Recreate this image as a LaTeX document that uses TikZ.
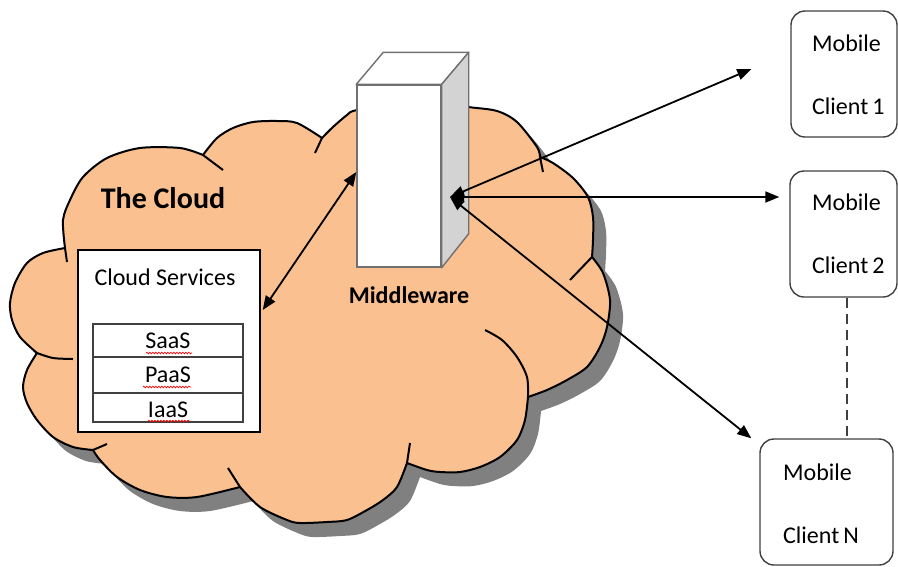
\documentclass[tikz,border=0pt]{standalone}
\usepackage{fontspec}
\setmainfont{Carlito}
\usetikzlibrary{arrows.meta,decorations.pathmorphing,calc}
\definecolor{cloudfill}{HTML}{FAC090}
\definecolor{shadowgray}{HTML}{808080}
\definecolor{mwside}{HTML}{D3D3D3}
\definecolor{mwedge}{HTML}{707070}
\definecolor{boxedge}{HTML}{404040}
\newcommand\cloudshape[1]{%
\path[#1] plot[smooth] coordinates {(65,248) (63,220) (70,200) (83,177) (107,158) (140,148) (180,148) (203,155)}
 -- plot[smooth] coordinates {(203,155) (217,138) (233,128) (253,122) (277,121) (297,123) (322,138)}
 -- plot[smooth] coordinates {(322,138) (333,127) (347,115) (357,110) (412,100) (468,107) (497,111) (517,122) (537,147) (540,157)}
 -- plot[smooth] coordinates {(540,157) (553,163) (573,178) (588,197) (593,217) (593,240) (592,257)}
 -- plot[smooth] coordinates {(592,257) (603,273) (610,300) (607,327) (600,347) (587,367) (567,380) (547,390) (528,397)}
 -- plot[smooth] coordinates {(528,397) (525,420) (517,440) (500,457) (480,467) (460,472) (440,472) (427,470) (407,463)}
 -- plot[smooth] coordinates {(407,463) (397,487) (383,500) (367,510) (347,520) (327,522) (300,523) (287,520) (260,507) (240,487)}
 -- plot[smooth] coordinates {(240,487) (197,497) (167,497) (140,490) (117,477) (100,460) (93,450)}
 -- plot[smooth] coordinates {(93,450) (73,447) (53,437) (37,420) (27,403) (23,387) (27,370) (37,353)}
 -- plot[smooth] coordinates {(37,353) (20,337) (12,320) (10,303) (15,283) (27,263) (43,253) (65,248)}
 -- cycle;}
\begin{document}
\begin{tikzpicture}[x=1pt,y=-1pt,
  txt/.style={font=\fontsize{24}{28}\selectfont, inner sep=0pt},
  btxt/.style={font=\fontsize{24}{28}\selectfont\bfseries, inner sep=0pt},
  cloudline/.style={line width=2pt, draw=black},
  client/.style={draw=boxedge, line width=1.4pt, rounded corners=14pt, fill=white},
  row/.style={draw=boxedge, line width=1.4pt, minimum width=150pt, inner sep=0pt},
  conn/.style={line width=1.8pt, {Triangle[length=14pt,width=11pt]}-{Triangle[length=14pt,width=11pt]}},
  dashline/.style={line width=1.5pt, draw=boxedge, dash pattern=on 10pt off 6pt},
  spell/.style={draw=red, line width=0.7pt, decorate, decoration={snake,amplitude=0.8pt,segment length=3pt}},
  mwface/.style={draw=mwedge, line width=1.4pt}]
\useasboundingbox (0,0) rectangle (898,566);

% cloud with shadow
\cloudshape{fill=shadowgray, shift={(13,14)}}
\cloudshape{fill=cloudfill, draw=black, line width=2pt, line join=round}
% inner arcs of the cloud
\draw[cloudline] (65,248) -- (67,262);
\draw[cloudline] (203,155) -- (223,170);
\draw[cloudline] (322,138) -- (315,153);
\draw[cloudline] (540,157) -- (543,172);
\draw[cloudline] (592,257) -- (570,280);
\draw[cloudline] plot[smooth] coordinates {(528,397) (527,377) (517,357) (502,340) (485,330)};
\draw[cloudline] (407,463) -- (410,443);
\draw[cloudline] (240,487) -- (228,468);
\draw[cloudline] (93,450) -- (107,444);
\draw[cloudline] plot[smooth] coordinates {(37,353) (53,358) (73,359)};

\node[btxt, font=\fontsize{30}{34}\selectfont\bfseries] (cloudlbl) at (163,198) {The Cloud};

% cloud services
\node[draw=black, fill=white, line width=1.4pt, minimum width=182pt, minimum height=182pt, inner sep=0pt] (cs) at (169,341) {};
\node[txt] (cslbl) at (165,277) {Cloud Services};
\node[row, minimum height=33pt] (saas) at (168,340.5) {};
\node[row, minimum height=36pt] (paas) at (168,375) {};
\node[row, minimum height=29pt] (iaas) at (168,407.5) {};
\node[txt] at (168,341) {SaaS};
\node[txt] at (168,375) {PaaS};
\node[txt] at (168,410) {IaaS};
\draw[spell] (146,353) -- (192,353);
\draw[spell] (143,387) -- (191,387);
\draw[spell] (148,421) -- (190,421);

% middleware
\node[mwface, fill=white, minimum width=84pt, minimum height=182pt, inner sep=0pt] (mw) at (399,176) {};
\draw[mwface, fill=white, line join=round] (mw.north west) -- ($(mw.north west)+(27,-32)$) -- ($(mw.north east)+(27,-32)$) -- (mw.north east) -- cycle;
\draw[mwface, fill=mwside, line join=round] (mw.north east) -- ($(mw.north east)+(27,-32)$) -- ($(mw.south east)+(27,-34)$) -- (mw.south east) -- cycle;
\node[btxt] (mwlbl) at (409,295) {Middleware};

% clients
\node[client, minimum width=106pt, minimum height=126pt, inner sep=0pt] (c1) at (844,74) {};
\node[client, minimum width=107pt, minimum height=126pt, inner sep=0pt] (c2) at (843.5,234) {};
\node[client, minimum width=133pt, minimum height=126pt, inner sep=0pt] (cn) at (826.5,502) {};
\node[txt, anchor=west] at (812,43) {Mobile};
\node[txt, anchor=west] at (812,106) {Client\,1};
\node[txt, anchor=west] at (812,202) {Mobile};
\node[txt, anchor=west] at (812,265) {Client\,2};
\node[txt, anchor=west] at (783,472) {Mobile};
\node[txt, anchor=west] at (783,535) {Client\,N};

% connectors
\coordinate (mwR) at (450,197);
\coordinate (t1) at ([xshift=-39pt,yshift=5pt]c1.west);
\coordinate (t2) at ([xshift=-10pt,yshift=37pt]c2.west);
\coordinate (tN) at ([xshift=-8pt]cn.north west);
\draw[conn] ([xshift=2pt,yshift=31pt]cs.east) -- ([yshift=4pt]mw.west);
\draw[conn] (mwR) -- (t1);
\draw[conn] (mwR) -- (t2);
\draw[conn] (mwR) -- (tN);
\draw[dashline] ([xshift=3.5pt]c2.south) -- ([xshift=3.5pt]c2.south |- cn.north);
\end{tikzpicture}
\end{document}
